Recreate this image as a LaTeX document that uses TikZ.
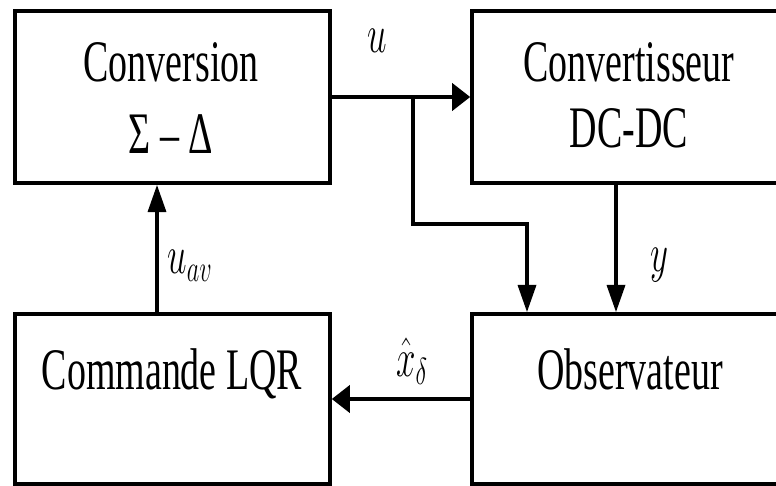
\documentclass[tikz,border=0pt]{standalone}
\usepackage{fontspec}
\setmainfont{Liberation Serif}
\usepackage{tikz}
\usetikzlibrary{fit,arrows.meta}

\newcommand{\tall}[1]{\scalebox{1}[1.55]{#1}}

\begin{document}
\begin{tikzpicture}[x=0.025cm,y=-0.025cm,line width=2.4pt,
    blk/.style={draw,line width=2.6pt,inner sep=0pt},
    txt/.style={anchor=base,inner sep=0pt,font=\fontsize{27}{30}\selectfont},
    htip/.style={-{Triangle[length=0.45cm,width=0.68cm]}},
    vtip/.style={-{Triangle[length=0.68cm,width=0.45cm]}}]
  \useasboundingbox (0,0) rectangle (776,486);
  % blocs
  \node[blk,fit={(15,11) (330,183)}] (conv) {};
  \node[blk,fit={(472,11) (790,183)}] (dcdc) {};
  \node[blk,fit={(15,314) (330,484)}] (lqr) {};
  \node[blk,fit={(472,314) (790,484)}] (obs) {};
  \node[txt] (convA) at (171,82) {\tall{Conversion}};
  \node[txt] (convB) at (171,153) {\tall{Σ – Δ}};
  \node[txt] (dcdcA) at (629,82) {\tall{Convertisseur}};
  \node[txt] (dcdcB) at (629,147) {\tall{DC-DC}};
  \node[txt] (lqrA) at (172,389) {\tall{Commande LQR}};
  \node[txt] (obsA) at (630,389) {\tall{Observateur}};
  % liaisons
  \coordinate (br) at (413,97);
  \coordinate (kn) at (527,224);
  \coordinate (ytap) at (616,0);
  \coordinate (uavtap) at (157,0);
  \draw[htip] (conv.east) -- (dcdc.west);
  \draw[vtip] (br) |- (kn) -- (kn |- obs.north);
  \draw[vtip] (ytap |- dcdc.south) -- (ytap |- obs.north);
  \draw[vtip] (uavtap |- lqr.north) -- (uavtap |- conv.south);
  \draw[htip] (obs.west) -- (lqr.east);
  % labels
  \node[txt] (lu) at (377,53) {\tall{$u$}};
  \node[txt] (luav) at (190,273) {\tall{$u_{av}$}};
  \node[txt] (ly) at (659,271) {\tall{$y$}};
  \node[txt] (lx) at (412,376) {\tall{$\hat{x}_\delta$}};
\end{tikzpicture}
\end{document}
